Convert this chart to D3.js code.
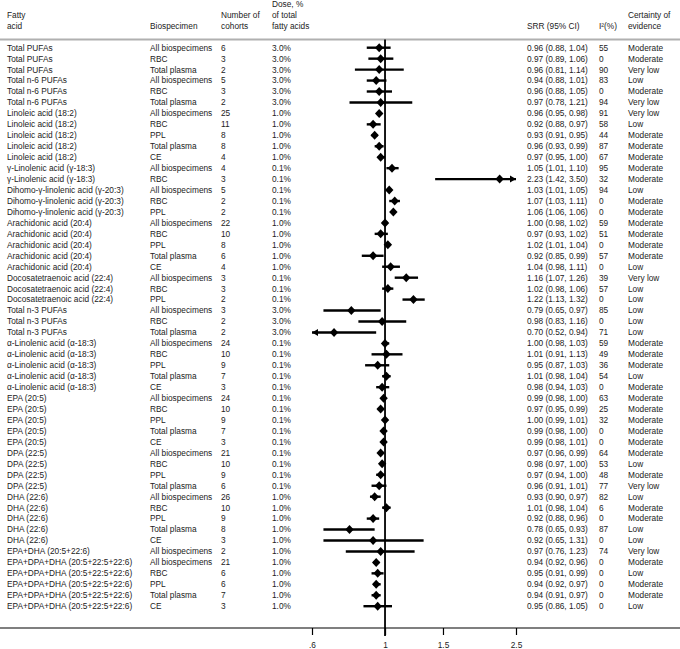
<!DOCTYPE html>
<html>
<head>
<meta charset="utf-8">
<title>Fatty acids forest plot</title>
<style>
    body { margin: 0; background: #fff; }
    svg text { font-family: "Liberation Sans", Arial, sans-serif; font-size: 8.3px; fill: #222; }
    .axis .domain { display: none; }
</style>
</head>
<body>
<svg width="680" height="649"></svg>
<script src="https://cdn.jsdelivr.net/npm/d3@7"></script>
<script>

    // data
    var fattyAcids = [
        "Total PUFAs", "Total PUFAs", "Total PUFAs",
        "Total n-6 PUFAs", "Total n-6 PUFAs", "Total n-6 PUFAs",
        "Linoleic acid (18:2)", "Linoleic acid (18:2)", "Linoleic acid (18:2)", "Linoleic acid (18:2)", "Linoleic acid (18:2)",
        "γ-Linolenic acid (γ-18:3)", "γ-Linolenic acid (γ-18:3)",
        "Dihomo-γ-linolenic acid (γ-20:3)", "Dihomo-γ-linolenic acid (γ-20:3)", "Dihomo-γ-linolenic acid (γ-20:3)",
        "Arachidonic acid (20:4)", "Arachidonic acid (20:4)", "Arachidonic acid (20:4)", "Arachidonic acid (20:4)", "Arachidonic acid (20:4)",
        "Docosatetraenoic acid (22:4)", "Docosatetraenoic acid (22:4)", "Docosatetraenoic acid (22:4)",
        "Total n-3 PUFAs", "Total n-3 PUFAs", "Total n-3 PUFAs",
        "α-Linolenic acid (α-18:3)", "α-Linolenic acid (α-18:3)", "α-Linolenic acid (α-18:3)", "α-Linolenic acid (α-18:3)", "α-Linolenic acid (α-18:3)",
        "EPA (20:5)", "EPA (20:5)", "EPA (20:5)", "EPA (20:5)", "EPA (20:5)",
        "DPA (22:5)", "DPA (22:5)", "DPA (22:5)", "DPA (22:5)",
        "DHA (22:6)", "DHA (22:6)", "DHA (22:6)", "DHA (22:6)", "DHA (22:6)",
        "EPA+DHA (20:5+22:6)",
        "EPA+DPA+DHA (20:5+22:5+22:6)", "EPA+DPA+DHA (20:5+22:5+22:6)", "EPA+DPA+DHA (20:5+22:5+22:6)",
        "EPA+DPA+DHA (20:5+22:5+22:6)", "EPA+DPA+DHA (20:5+22:5+22:6)"
    ];
    var specimens = [
        "All biospecimens", "RBC", "Total plasma",
        "All biospecimens", "RBC", "Total plasma",
        "All biospecimens", "RBC", "PPL", "Total plasma", "CE",
        "All biospecimens", "RBC",
        "All biospecimens", "RBC", "PPL",
        "All biospecimens", "RBC", "PPL", "Total plasma", "CE",
        "All biospecimens", "RBC", "PPL",
        "All biospecimens", "RBC", "Total plasma",
        "All biospecimens", "RBC", "PPL", "Total plasma", "CE",
        "All biospecimens", "RBC", "PPL", "Total plasma", "CE",
        "All biospecimens", "RBC", "PPL", "Total plasma",
        "All biospecimens", "RBC", "PPL", "Total plasma", "CE",
        "All biospecimens",
        "All biospecimens", "RBC", "PPL", "Total plasma", "CE"
    ];
    var cohorts = [6, 3, 2, 5, 3, 2, 25, 11, 8, 8, 4, 4, 3, 5, 2, 2, 22, 10, 8, 6, 4, 3, 3, 2, 3, 2, 2,
        24, 10, 9, 7, 3, 24, 10, 9, 7, 3, 21, 10, 9, 6, 26, 10, 9, 8, 3, 2, 21, 6, 6, 7, 3];
    var doses = ["3.0%", "3.0%", "3.0%", "3.0%", "3.0%", "3.0%",
        "1.0%", "1.0%", "1.0%", "1.0%", "1.0%", "0.1%", "0.1%", "0.1%", "0.1%", "0.1%",
        "1.0%", "1.0%", "1.0%", "1.0%", "1.0%", "0.1%", "0.1%", "0.1%",
        "3.0%", "3.0%", "3.0%", "0.1%", "0.1%", "0.1%", "0.1%", "0.1%",
        "0.1%", "0.1%", "0.1%", "0.1%", "0.1%", "0.1%", "0.1%", "0.1%", "0.1%",
        "1.0%", "1.0%", "1.0%", "1.0%", "1.0%", "1.0%",
        "1.0%", "1.0%", "1.0%", "1.0%", "1.0%"];
    var srr = [0.96, 0.97, 0.96, 0.94, 0.96, 0.97, 0.96, 0.92, 0.93, 0.96, 0.97, 1.05, 2.23, 1.03, 1.07, 1.06,
        1.00, 0.97, 1.02, 0.92, 1.04, 1.16, 1.02, 1.22, 0.79, 0.98, 0.70, 1.00, 1.01, 0.95, 1.01, 0.98,
        0.99, 0.97, 1.00, 0.99, 0.99, 0.97, 0.98, 0.97, 0.96, 0.93, 1.01, 0.92, 0.78, 0.92, 0.97,
        0.94, 0.95, 0.94, 0.94, 0.95];
    var ciLow = [0.88, 0.89, 0.81, 0.88, 0.88, 0.78, 0.95, 0.88, 0.91, 0.93, 0.95, 1.01, 1.42, 1.01, 1.03, 1.06,
        0.98, 0.93, 1.01, 0.85, 0.98, 1.07, 0.98, 1.13, 0.65, 0.83, 0.52, 0.98, 0.91, 0.87, 0.98, 0.94,
        0.98, 0.95, 0.99, 0.98, 0.98, 0.96, 0.97, 0.94, 0.91, 0.90, 0.98, 0.88, 0.65, 0.65, 0.76,
        0.92, 0.91, 0.92, 0.91, 0.86];
    var ciHigh = [1.04, 1.06, 1.14, 1.01, 1.05, 1.21, 0.98, 0.97, 0.95, 0.99, 1.00, 1.10, 3.50, 1.05, 1.11, 1.06,
        1.02, 1.02, 1.04, 0.99, 1.11, 1.26, 1.06, 1.32, 0.97, 1.16, 0.94, 1.03, 1.13, 1.03, 1.04, 1.03,
        1.00, 0.99, 1.01, 1.00, 1.01, 0.99, 1.00, 1.00, 1.01, 0.97, 1.04, 0.96, 0.93, 1.31, 1.23,
        0.96, 0.99, 0.97, 0.97, 1.05];
    var i2 = [55, 0, 90, 83, 0, 94, 91, 58, 44, 87, 67, 95, 32, 94, 0, 0, 59, 51, 0, 57, 0, 39, 57, 0, 85, 0, 71,
        59, 49, 36, 54, 0, 63, 25, 32, 0, 0, 64, 53, 48, 77, 82, 6, 0, 87, 0, 74, 0, 0, 0, 0, 0];
    var certainty = ["Moderate", "Moderate", "Very low", "Low", "Moderate", "Very low",
        "Very low", "Low", "Moderate", "Moderate", "Moderate", "Moderate", "Moderate",
        "Low", "Moderate", "Moderate", "Moderate", "Moderate", "Moderate", "Moderate", "Low",
        "Very low", "Low", "Low", "Low", "Low", "Low",
        "Moderate", "Moderate", "Moderate", "Low", "Moderate",
        "Moderate", "Moderate", "Moderate", "Moderate", "Moderate",
        "Moderate", "Low", "Moderate", "Very low",
        "Low", "Moderate", "Moderate", "Low", "Low", "Very low",
        "Moderate", "Low", "Moderate", "Moderate", "Low"];
    var tickValues = [0.6, 1, 1.5, 2.5];
    var tickLabels = [".6", "1", "1.5", "2.5"];

    var svg = d3.select("svg"),
        W = +svg.attr("width");

    var rows = d3.range(srr.length);

    var x = d3.scaleLog().domain([0.6, 2.5]).range([312, 516]);
    var y = d3.scalePoint().domain(rows).range([47.7, 606.2]);

    var headerLine = 39.5, axisY = 628;

    // column header
    var cols = [
        {x: 7, lines: ["Fatty", "acid"]},
        {x: 150, lines: ["Biospecimen"]},
        {x: 221, lines: ["Number of", "cohorts"]},
        {x: 272, lines: ["Dose, %", "of total", "fatty acids"]},
        {x: 527, lines: ["SRR (95% CI)"]},
        {x: 599, lines: ["I²(%)"]},
        {x: 628, lines: ["Certainty of", "evidence"]}
    ];
    cols.forEach(function (c) {
        var n = c.lines.length;
        c.lines.forEach(function (t, k) {
            svg.append("text")
                .attr("x", c.x)
                .attr("y", 26.5 - (n - 1 - k) * 11.2)
                .attr("dy", "0.35em")
                .text(t);
        });
    });

    svg.append("line")
        .attr("x1", 0).attr("x2", W)
        .attr("y1", headerLine).attr("y2", headerLine)
        .attr("stroke", "#b0b0b0").attr("stroke-width", 2);

    // table columns
    var row = svg.append("g").selectAll("g")
        .data(rows)
        .enter().append("g")
        .attr("transform", function (i) { return "translate(0," + y(i) + ")"; });

    function col(xpos, f) {
        row.append("text").attr("x", xpos).attr("dy", "0.35em").text(f);
    }
    col(7, function (i) { return fattyAcids[i]; });
    col(150, function (i) { return specimens[i]; });
    col(221, function (i) { return cohorts[i]; });
    col(272, function (i) { return doses[i]; });
    col(527, function (i) {
        var f = d3.format(".2f");
        return f(srr[i]) + " (" + f(ciLow[i]) + ", " + f(ciHigh[i]) + ")";
    });
    col(599, function (i) { return i2[i]; });
    col(628, function (i) { return certainty[i]; });

    // reference line at 1
    svg.append("line")
        .attr("x1", x(1)).attr("x2", x(1))
        .attr("y1", headerLine).attr("y2", axisY + 8)
        .attr("stroke", "#000").attr("stroke-width", 1.8);

    // CI lines (clipped to the axis range, arrow where clipped)
    var lo = x.domain()[0], hi = x.domain()[1];
    row.append("line")
        .attr("x1", function (i) { return x(Math.max(ciLow[i], lo)); })
        .attr("x2", function (i) { return x(Math.min(ciHigh[i], hi)); })
        .attr("stroke", "#000").attr("stroke-width", 2.4);

    row.filter(function (i) { return ciLow[i] < lo; })
        .append("path")
        .attr("d", function () {
            var a = x(lo);
            return "M" + a + ",0L" + (a + 6) + ",-3.5L" + (a + 6) + ",3.5Z";
        })
        .attr("fill", "#000");

    row.filter(function (i) { return ciHigh[i] > hi; })
        .append("path")
        .attr("d", function () {
            var a = x(hi);
            return "M" + a + ",0L" + (a - 6) + ",-3.5L" + (a - 6) + ",3.5Z";
        })
        .attr("fill", "#000");

    // point estimates
    row.append("path")
        .attr("d", function (i) {
            var cx = x(srr[i]);
            return "M" + cx + ",-4.5L" + (cx + 4.2) + ",0L" + cx + ",4.5L" + (cx - 4.2) + ",0Z";
        })
        .attr("fill", "#000");

    // bottom axis
    svg.append("line")
        .attr("x1", 0).attr("x2", W)
        .attr("y1", axisY).attr("y2", axisY)
        .attr("stroke", "#000").attr("stroke-width", 1.2);

    var axis = svg.append("g")
        .attr("class", "axis")
        .attr("transform", "translate(0," + axisY + ")")
        .call(d3.axisBottom(x)
            .tickValues(tickValues)
            .tickSize(7)
            .tickPadding(7)
            .tickFormat(function (d, i) { return tickLabels[i]; }));
    axis.selectAll("line").attr("stroke", "#000").attr("stroke-width", 1.2);
    axis.selectAll("text")
        .style("font-family", "\"Liberation Sans\", Arial, sans-serif")
        .style("font-size", "8.3px")
        .attr("fill", "#222");

</script>
</body>
</html>
